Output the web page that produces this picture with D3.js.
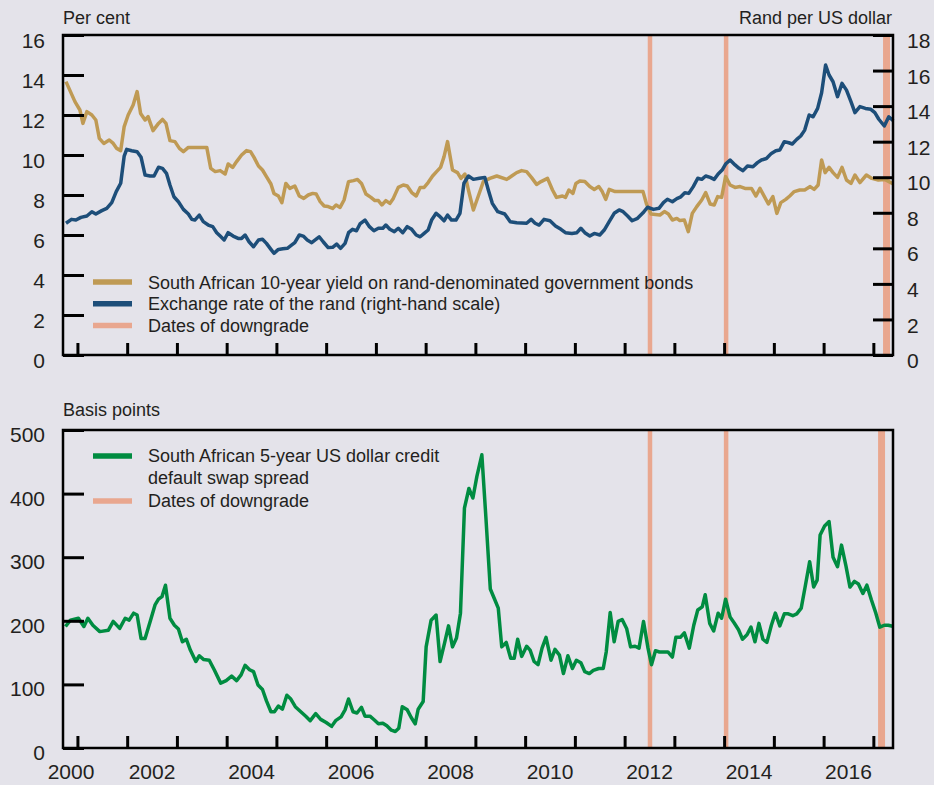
<!DOCTYPE html>
<html>
<head>
<meta charset="utf-8">
<script src="https://cdn.jsdelivr.net/npm/d3@7"></script>
<style>
  body { margin: 0; background: #e4e3ea; }
  svg { display: block; font-family: "Liberation Sans", Arial, sans-serif; }
</style>
</head>
<body>
<svg id="chart" width="934" height="785"></svg>
<script>
// [decimal year, per cent]
const yieldSeries = [[2000.77,13.67],[2000.95,12.67],[2001.05,12.25],[2001.11,11.58],[2001.19,12.17],[2001.29,12.0],[2001.37,11.75],[2001.44,10.83],[2001.53,10.58],[2001.64,10.75],[2001.72,10.58],[2001.79,10.33],[2001.87,10.22],[2001.94,11.42],[2002.02,12.0],[2002.12,12.5],[2002.20,13.17],[2002.27,12.08],[2002.36,11.75],[2002.42,11.92],[2002.52,11.22],[2002.63,11.58],[2002.71,11.78],[2002.78,11.58],[2002.86,10.72],[2002.96,10.67],[2003.05,10.33],[2003.13,10.17],[2003.23,10.38],[2003.60,10.38],[2003.68,9.33],[2003.77,9.17],[2003.87,9.22],[2003.97,9.05],[2004.03,9.55],[2004.12,9.38],[2004.20,9.67],[2004.30,10.0],[2004.40,10.22],[2004.48,10.17],[2004.55,9.88],[2004.64,9.45],[2004.72,9.25],[2004.80,8.92],[2004.89,8.55],[2004.95,8.08],[2005.04,7.95],[2005.11,7.62],[2005.19,8.58],[2005.27,8.33],[2005.37,8.45],[2005.46,7.95],[2005.55,7.83],[2005.64,8.0],[2005.73,8.08],[2005.80,8.05],[2005.88,7.67],[2005.96,7.45],[2006.04,7.42],[2006.13,7.33],[2006.20,7.5],[2006.28,7.38],[2006.36,7.75],[2006.45,8.67],[2006.55,8.72],[2006.63,8.78],[2006.71,8.58],[2006.80,8.05],[2006.90,7.88],[2006.98,7.72],[2007.05,7.72],[2007.12,7.5],[2007.20,7.72],[2007.28,7.58],[2007.35,7.83],[2007.45,8.38],[2007.55,8.5],[2007.63,8.45],[2007.72,8.12],[2007.81,7.95],[2007.89,8.38],[2007.97,8.38],[2008.05,8.62],[2008.14,8.95],[2008.22,9.17],[2008.30,9.38],[2008.37,9.92],[2008.44,10.67],[2008.54,9.25],[2008.64,9.12],[2008.71,8.83],[2008.79,9.05],[2008.86,8.25],[2008.96,7.25],[2009.08,8.1],[2009.16,8.67],[2009.29,8.83],[2009.43,8.95],[2009.63,8.78],[2009.73,8.95],[2009.83,9.12],[2009.93,9.22],[2010.03,9.17],[2010.13,8.87],[2010.23,8.53],[2010.32,8.67],[2010.45,8.83],[2010.55,8.25],[2010.63,7.88],[2010.75,7.95],[2010.81,7.88],[2010.88,8.25],[2010.96,8.08],[2011.02,8.58],[2011.10,8.7],[2011.20,8.67],[2011.30,8.42],[2011.39,8.28],[2011.48,8.42],[2011.55,8.17],[2011.62,7.78],[2011.69,8.28],[2011.81,8.17],[2012.37,8.17],[2012.44,7.55],[2012.53,7.05],[2012.71,7.0],[2012.80,7.17],[2012.88,7.05],[2012.96,6.75],[2013.05,6.83],[2013.11,6.72],[2013.20,6.75],[2013.28,6.17],[2013.36,7.08],[2013.45,7.42],[2013.55,7.75],[2013.63,8.12],[2013.72,7.55],[2013.80,7.5],[2013.87,7.92],[2013.95,7.88],[2014.03,8.92],[2014.12,8.5],[2014.22,8.38],[2014.32,8.42],[2014.42,8.33],[2014.55,8.33],[2014.64,7.95],[2014.72,8.33],[2014.81,7.92],[2014.89,7.55],[2014.98,7.92],[2015.06,7.08],[2015.14,7.62],[2015.24,7.78],[2015.32,7.95],[2015.41,8.17],[2015.52,8.25],[2015.62,8.25],[2015.73,8.42],[2015.81,8.28],[2015.89,8.5],[2015.96,9.75],[2016.03,9.12],[2016.11,9.38],[2016.19,9.12],[2016.28,8.88],[2016.37,9.38],[2016.46,8.75],[2016.55,8.58],[2016.63,9.0],[2016.73,8.62],[2016.86,9.0],[2016.97,8.83],[2017.10,8.75],[2017.23,8.78],[2017.40,8.55]];

// [decimal year, rand per US dollar]
const randSeries = [[2000.77,7.41],[2000.88,7.63],[2000.97,7.59],[2001.07,7.74],[2001.19,7.82],[2001.29,8.06],[2001.37,7.93],[2001.49,8.12],[2001.59,8.25],[2001.69,8.57],[2001.78,9.19],[2001.87,9.66],[2001.94,11.19],[2001.99,11.57],[2002.09,11.49],[2002.20,11.43],[2002.28,11.12],[2002.36,10.12],[2002.46,10.07],[2002.54,10.07],[2002.63,10.56],[2002.71,10.5],[2002.79,10.22],[2002.86,9.56],[2002.94,8.9],[2003.03,8.62],[2003.13,8.19],[2003.23,7.93],[2003.30,7.63],[2003.36,7.59],[2003.45,7.87],[2003.53,7.5],[2003.63,7.31],[2003.72,7.22],[2003.80,6.88],[2003.87,6.69],[2003.95,6.47],[2004.03,6.88],[2004.13,6.69],[2004.23,6.56],[2004.30,6.56],[2004.37,6.75],[2004.45,6.37],[2004.54,6.09],[2004.64,6.47],[2004.72,6.51],[2004.80,6.28],[2004.89,5.94],[2004.95,5.72],[2005.04,5.94],[2005.13,5.98],[2005.22,6.0],[2005.31,6.19],[2005.37,6.32],[2005.46,6.75],[2005.54,6.69],[2005.62,6.47],[2005.71,6.32],[2005.78,6.47],[2005.86,6.65],[2005.94,6.37],[2006.04,6.04],[2006.13,6.06],[2006.21,6.24],[2006.29,6.0],[2006.38,6.28],[2006.45,6.88],[2006.53,7.07],[2006.61,6.99],[2006.68,7.37],[2006.78,7.59],[2006.87,7.22],[2006.96,6.99],[2007.05,7.13],[2007.14,7.13],[2007.20,7.31],[2007.28,7.07],[2007.37,6.94],[2007.45,7.13],[2007.54,6.88],[2007.63,7.22],[2007.72,7.07],[2007.81,6.75],[2007.89,6.65],[2007.97,6.84],[2008.05,7.03],[2008.12,7.59],[2008.21,7.97],[2008.29,7.78],[2008.37,7.55],[2008.44,7.87],[2008.52,7.59],[2008.61,7.59],[2008.69,7.97],[2008.77,9.66],[2008.86,10.07],[2008.96,9.88],[2009.08,9.94],[2009.19,9.99],[2009.26,9.28],[2009.34,8.53],[2009.45,8.06],[2009.59,7.93],[2009.70,7.5],[2009.83,7.44],[2010.03,7.41],[2010.12,7.63],[2010.20,7.41],[2010.28,7.31],[2010.38,7.63],[2010.50,7.55],[2010.61,7.26],[2010.72,7.07],[2010.81,6.88],[2010.94,6.84],[2011.04,6.88],[2011.12,7.13],[2011.20,6.88],[2011.30,6.69],[2011.39,6.84],[2011.50,6.75],[2011.59,7.03],[2011.69,7.5],[2011.79,7.97],[2011.89,8.16],[2011.97,8.06],[2012.06,7.82],[2012.15,7.55],[2012.26,7.69],[2012.37,8.0],[2012.46,8.31],[2012.58,8.19],[2012.69,8.25],[2012.78,8.57],[2012.86,8.76],[2012.96,8.62],[2013.05,8.8],[2013.13,8.9],[2013.21,9.13],[2013.29,9.09],[2013.38,9.47],[2013.47,9.94],[2013.55,9.88],[2013.63,10.07],[2013.72,9.99],[2013.80,9.88],[2013.88,10.18],[2013.96,10.4],[2014.03,10.74],[2014.12,10.97],[2014.22,10.69],[2014.30,10.5],[2014.38,10.37],[2014.47,10.63],[2014.58,10.59],[2014.67,10.82],[2014.75,10.97],[2014.85,11.05],[2014.95,11.34],[2015.04,11.49],[2015.12,11.53],[2015.21,12.0],[2015.30,11.94],[2015.37,11.87],[2015.46,12.13],[2015.54,12.32],[2015.62,12.65],[2015.71,13.5],[2015.79,13.4],[2015.88,13.87],[2015.96,14.75],[2016.04,16.31],[2016.11,15.75],[2016.19,15.37],[2016.28,14.53],[2016.37,15.28],[2016.46,14.9],[2016.55,14.25],[2016.63,13.63],[2016.73,13.97],[2016.84,13.87],[2016.95,13.82],[2017.03,13.63],[2017.11,13.26],[2017.22,12.88],[2017.31,13.4],[2017.40,13.18]];

// [decimal year, basis points]
const cdsSeries = [[2000.76,191],[2000.86,201],[2001.02,204],[2001.13,191],[2001.21,204],[2001.31,193],[2001.45,183],[2001.62,185],[2001.72,199],[2001.85,188],[2001.96,204],[2002.04,201],[2002.13,212],[2002.20,209],[2002.28,172],[2002.36,172],[2002.47,201],[2002.56,225],[2002.63,234],[2002.70,238],[2002.77,256],[2002.86,204],[2002.95,193],[2003.03,187],[2003.11,167],[2003.19,171],[2003.27,154],[2003.38,136],[2003.45,145],[2003.54,139],[2003.65,138],[2003.75,123],[2003.88,102],[2003.99,106],[2004.10,113],[2004.20,106],[2004.29,115],[2004.37,130],[2004.46,123],[2004.54,120],[2004.63,99],[2004.72,92],[2004.80,74],[2004.89,57],[2004.96,57],[2005.04,66],[2005.12,61],[2005.21,83],[2005.29,77],[2005.38,65],[2005.49,57],[2005.59,50],[2005.68,43],[2005.79,54],[2005.89,45],[2006.00,40],[2006.11,34],[2006.19,43],[2006.30,49],[2006.38,60],[2006.45,77],[2006.54,57],[2006.62,55],[2006.71,64],[2006.78,50],[2006.88,50],[2006.97,44],[2007.05,38],[2007.14,39],[2007.22,35],[2007.31,28],[2007.39,26],[2007.46,31],[2007.53,65],[2007.63,60],[2007.71,48],[2007.79,38],[2007.85,61],[2007.95,73],[2008.01,159],[2008.11,201],[2008.21,209],[2008.29,136],[2008.38,165],[2008.46,192],[2008.54,159],[2008.62,173],[2008.70,212],[2008.78,377],[2008.87,408],[2008.95,393],[2009.03,427],[2009.13,461],[2009.21,364],[2009.30,250],[2009.38,235],[2009.46,220],[2009.53,159],[2009.62,166],[2009.71,141],[2009.78,141],[2009.85,171],[2009.93,144],[2010.03,160],[2010.10,154],[2010.18,136],[2010.26,131],[2010.34,157],[2010.42,174],[2010.52,138],[2010.60,155],[2010.69,146],[2010.77,117],[2010.86,145],[2010.95,125],[2011.03,138],[2011.12,134],[2011.20,120],[2011.29,117],[2011.37,122],[2011.48,125],[2011.57,125],[2011.63,151],[2011.71,213],[2011.79,167],[2011.87,199],[2011.95,202],[2012.04,188],[2012.12,159],[2012.21,160],[2012.29,157],[2012.38,199],[2012.47,157],[2012.54,131],[2012.62,153],[2012.70,151],[2012.79,151],[2012.87,151],[2012.96,143],[2013.03,174],[2013.12,174],[2013.20,181],[2013.30,157],[2013.39,193],[2013.47,217],[2013.56,222],[2013.62,241],[2013.71,196],[2013.79,184],[2013.88,212],[2013.95,204],[2014.03,234],[2014.12,206],[2014.20,197],[2014.29,186],[2014.37,171],[2014.46,178],[2014.54,190],[2014.62,167],[2014.70,196],[2014.78,171],[2014.86,166],[2014.95,193],[2015.03,212],[2015.12,192],[2015.21,211],[2015.29,211],[2015.38,208],[2015.46,211],[2015.55,220],[2015.63,254],[2015.72,293],[2015.80,253],[2015.87,264],[2015.93,335],[2016.02,349],[2016.11,356],[2016.19,300],[2016.28,285],[2016.36,319],[2016.45,286],[2016.53,253],[2016.62,262],[2016.70,258],[2016.79,243],[2016.87,256],[2016.96,233],[2017.05,212],[2017.13,190],[2017.22,193],[2017.30,193],[2017.41,191]];

const downgradesTop = [2012.51, 2014.04, 2017.24, 2017.29];
const downgradesBottom = [2012.51, 2014.04, 2017.14, 2017.19];

const yearTicks = d3.range(2001, 2018);
const yearLabels = [2000, 2002, 2004, 2006, 2008, 2010, 2012, 2014, 2016];
const leftTicks = [0, 2, 4, 6, 8, 10, 12, 14, 16];
const rightTicks = [0, 2, 4, 6, 8, 10, 12, 14, 16, 18];
const bpTicks = [0, 100, 200, 300, 400, 500];

const legendTop = [
  { label: 'South African 10-year yield on rand-denominated government bonds', color: '#bf9a54' },
  { label: 'Exchange rate of the rand (right-hand scale)', color: '#1d4e79' },
  { label: 'Dates of downgrade', color: '#e9a78f' }
];
const legendBottom = [
  { label: ['South African 5-year US dollar credit', 'default swap spread'], color: '#008c41' },
  { label: ['Dates of downgrade'], color: '#e9a78f' }
];

const COLORS = { yield: '#bf9a54', rand: '#1d4e79', cds: '#008c41', downgrade: '#e9a78f', text: '#231f20' };
const W = 934, H = 785;
const TOP = { top: 35, bottom: 355 };
const BOT = { top: 430, bottom: 748 };

const svg = d3.select('#chart');
svg.append('rect').attr('width', W).attr('height', H).attr('fill', '#e4e3ea');

const x = d3.scaleLinear().domain([2000.71, 2017.395]).range([63, 893]);
const yLeft = d3.scaleLinear().domain([0, 16]).range([TOP.bottom, TOP.top]);
const yRight = d3.scaleLinear().domain([0, 18]).range([TOP.bottom, TOP.top]);
const yBp = d3.scaleLinear().domain([0, 500]).range([BOT.bottom, BOT.top]);

function drawDowngrades(dates, panel) {
  svg.append('g')
    .selectAll('line')
    .data(dates)
    .enter()
    .append('line')
    .attr('x1', d => x(d)).attr('x2', d => x(d))
    .attr('y1', panel.top).attr('y2', panel.bottom)
    .attr('stroke', COLORS.downgrade)
    .attr('stroke-width', 4.5);
}

function drawSeries(data, y, color) {
  const line = d3.line().x(d => x(d[0])).y(d => y(d[1]));
  svg.append('path')
    .datum(data)
    .attr('d', line)
    .attr('fill', 'none')
    .attr('stroke', color)
    .attr('stroke-width', 3.5)
    .attr('stroke-linejoin', 'round');
}

function styleAxis(g, size) {
  g.select('.domain').remove();
  g.selectAll('line').attr('stroke', '#000').attr('stroke-width', 3);
  g.selectAll('text')
    .attr('fill', COLORS.text)
    .attr('font-size', size)
    .attr('font-family', '"Liberation Sans", Arial, sans-serif');
}

function drawFrame(panel) {
  svg.append('rect')
    .attr('x', x.range()[0]).attr('y', panel.top)
    .attr('width', x.range()[1] - x.range()[0])
    .attr('height', panel.bottom - panel.top)
    .attr('fill', 'none')
    .attr('stroke', '#000')
    .attr('stroke-width', 2.5);
}

// top panel
drawDowngrades(downgradesTop, TOP);
drawSeries(yieldSeries, yLeft, COLORS.yield);
drawSeries(randSeries, yRight, COLORS.rand);

svg.append('g')
  .attr('transform', `translate(${x.range()[0]},0)`)
  .call(d3.axisLeft(yLeft).tickValues(leftTicks).tickSize(-21).tickPadding(18))
  .call(g => styleAxis(g, 21))
  .selectAll('text').attr('dy', '0.6em');

svg.append('g')
  .attr('transform', `translate(${x.range()[1]},0)`)
  .call(d3.axisRight(yRight).tickValues(rightTicks).tickSize(-20).tickPadding(14))
  .call(g => styleAxis(g, 21))
  .selectAll('text').attr('dy', '0.6em');

svg.append('g')
  .attr('transform', `translate(0,${TOP.bottom})`)
  .call(d3.axisBottom(x).tickValues(yearTicks).tickSize(-12).tickFormat(''))
  .call(g => styleAxis(g, 21));

drawFrame(TOP);

svg.append('text').attr('x', 63).attr('y', 24)
  .attr('font-size', 18).attr('fill', COLORS.text).text('Per cent');
svg.append('text').attr('x', 892).attr('y', 24).attr('text-anchor', 'end')
  .attr('font-size', 18).attr('fill', COLORS.text).text('Rand per US dollar');

const legTop = svg.append('g').selectAll('g')
  .data(legendTop).enter().append('g')
  .attr('transform', (d, i) => `translate(93,${282 + i * 21.7})`);
legTop.append('line').attr('x1', 0).attr('x2', 39)
  .attr('stroke', d => d.color).attr('stroke-width', 5.5);
legTop.append('text').attr('x', 55).attr('y', 6.5)
  .attr('font-size', 18).attr('fill', COLORS.text).text(d => d.label);

// bottom panel
drawDowngrades(downgradesBottom, BOT);
drawSeries(cdsSeries, yBp, COLORS.cds);

svg.append('g')
  .attr('transform', `translate(${x.range()[0]},0)`)
  .call(d3.axisLeft(yBp).tickValues(bpTicks).tickSize(-21).tickPadding(18))
  .call(g => styleAxis(g, 21))
  .selectAll('text').attr('dy', '0.55em');

svg.append('g')
  .attr('transform', `translate(0,${BOT.bottom})`)
  .call(d3.axisBottom(x).tickValues(yearTicks).tickSize(-12).tickFormat(''))
  .call(g => styleAxis(g, 21));

drawFrame(BOT);

svg.append('g').selectAll('text')
  .data(yearLabels).enter().append('text')
  .attr('x', d => Math.max(x(d + 0.5), x.range()[0] + 8))
  .attr('y', 779)
  .attr('text-anchor', 'middle')
  .attr('font-size', 21)
  .attr('fill', COLORS.text)
  .text(d => d);

svg.append('text').attr('x', 63).attr('y', 416)
  .attr('font-size', 18).attr('fill', COLORS.text).text('Basis points');

let legY = 456;
legendBottom.forEach(item => {
  svg.append('line').attr('x1', 93).attr('x2', 132)
    .attr('y1', legY).attr('y2', legY)
    .attr('stroke', item.color).attr('stroke-width', 5.5);
  item.label.forEach((t, j) => {
    svg.append('text').attr('x', 148).attr('y', legY + 6 + j * 22)
      .attr('font-size', 18).attr('fill', COLORS.text).text(t);
  });
  legY += item.label.length * 22.5;
});
</script>
</body>
</html>
